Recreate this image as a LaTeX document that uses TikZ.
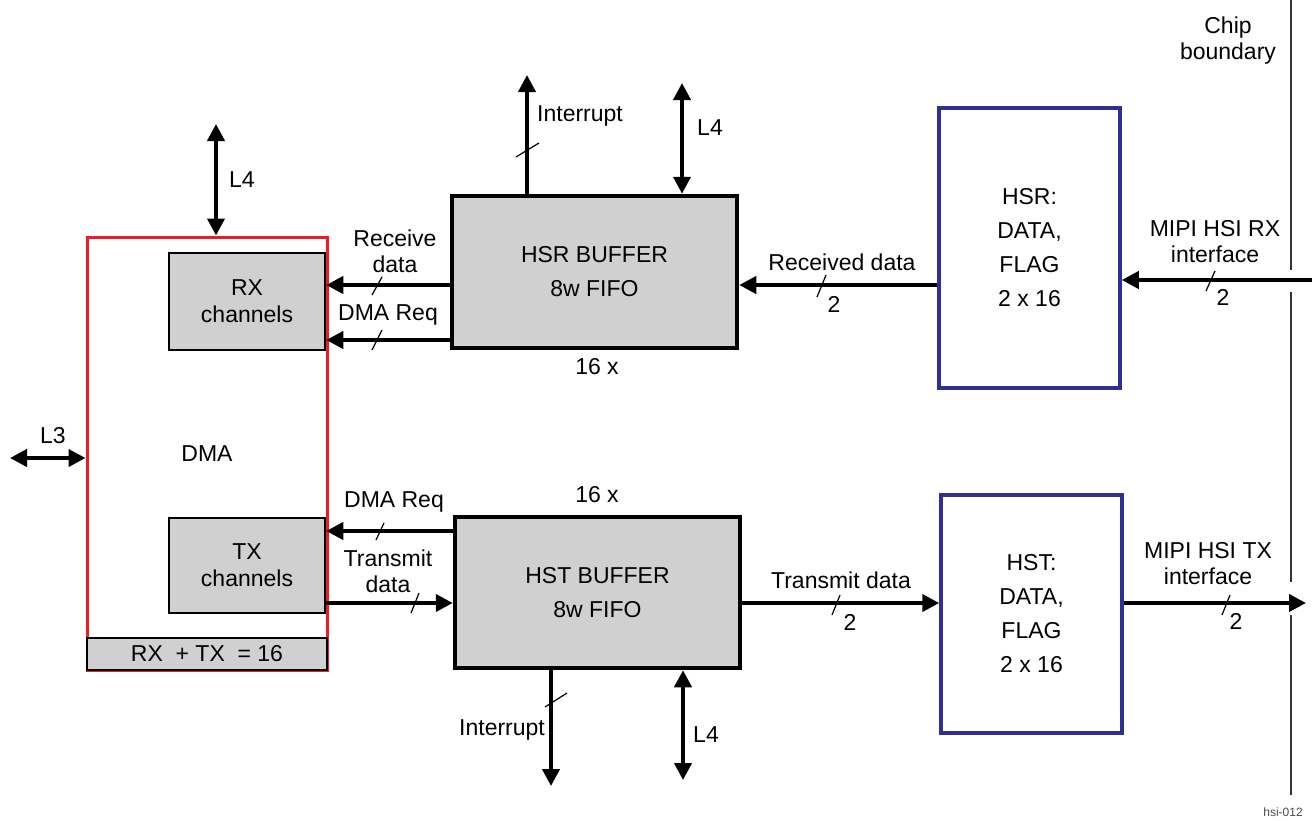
\documentclass[tikz,border=0pt]{standalone}
\usepackage{fontspec}
\setmainfont{Liberation Sans}
\usetikzlibrary{arrows.meta,calc}
\definecolor{boxgrey}{HTML}{D0D0D0}
\definecolor{dmared}{HTML}{ED1C24}
\definecolor{regblue}{HTML}{2E3192}
\begin{document}
\begin{tikzpicture}[x=1pt,y=-1pt,
  every node/.style={font=\fontsize{23}{26}\selectfont, inner sep=0pt},
  lbl/.style={align=center},
  chan/.style={draw=black, line width=2.5pt, fill=boxgrey, align=center, font=\fontsize{23}{27}\selectfont},
  buf/.style={draw=black, line width=4.5pt, fill=boxgrey, align=center, font=\fontsize{23}{34}\selectfont},
  reg/.style={draw=regblue, line width=3.5pt, fill=white, align=center, font=\fontsize{23}{34}\selectfont},
  sig/.style={line width=4pt, -{Triangle[length=17pt,width=17pt]}},
  bidir/.style={line width=4pt, {Triangle[length=17pt,width=17pt]}-{Triangle[length=17pt,width=17pt]}},
  tick/.style={line width=1.2pt},
  boundary/.style={line width=2pt, draw=black!80}
]
\useasboundingbox (0,0) rectangle (1312,820);

% DMA block
\node[draw=dmared, line width=3pt, minimum width=240pt, minimum height=433pt] (dma) at (207,453.5) {DMA};
\node[draw=black, line width=2pt, fill=boxgrey, minimum width=240pt, minimum height=32pt] (sum) at (207,654) {RX~ + TX~ = 16};
\node[chan, minimum width=156pt, minimum height=97pt] (rx) at (247,301.5) {RX\\channels};
\node[chan, minimum width=156pt, minimum height=95pt] (tx) at (247,565.5) {TX\\channels};

% buffers
\node[buf, minimum width=285pt, minimum height=152pt] (hsrbuf) at (594.5,272) {HSR BUFFER\\8w FIFO};
\node[buf, minimum width=285pt, minimum height=151pt] (hstbuf) at (597.5,592.5) {HST BUFFER\\8w FIFO};

% registers
\node[reg, minimum width=181pt, minimum height=280pt] (hsrreg) at (1029.5,248) {HSR:\\DATA,\\FLAG\\2 x 16};
\node[reg, minimum width=181pt, minimum height=238pt] (hstreg) at (1031.5,614) {HST:\\DATA,\\FLAG\\2 x 16};

% free ends
\coordinate (l3) at (10,458);
\coordinate (l4d) at (216,124);
\coordinate (irq1) at (527,75);
\coordinate (l4a) at (682,83);
\coordinate (rxin) at (1312,280);
\coordinate (txout) at (1306,603);
\coordinate (irq2) at (551,786);
\coordinate (l4b) at (683,780);

% connectors
\draw[bidir] (l3) -- (dma.west |- l3);
\draw[bidir] (l4d) -- (dma.north -| l4d);
\draw[sig] (hsrbuf.north -| irq1) -- (irq1);
\draw[bidir] (l4a) -- (hsrbuf.north -| l4a);
\draw[sig] (hsrbuf.west |- 0,285) -- (rx.east |- 0,285);
\draw[sig] (hsrbuf.west |- 0,340) -- (rx.east |- 0,340);
\draw[sig] (hsrreg.west |- 0,285) -- (hsrbuf.east |- 0,285);
\draw[sig] (rxin) -- (hsrreg.east |- rxin);

\draw[sig] (hstbuf.west |- 0,531) -- (tx.east |- 0,531);
\draw[sig] (tx.east |- 0,603) -- (hstbuf.west |- 0,603);
\draw[sig] (hstbuf.east |- 0,603) -- (hstreg.west |- 0,603);
\draw[sig] (hstreg.east |- 0,603) -- (txout);
\draw[sig] (hstbuf.south -| irq2) -- (irq2);
\draw[bidir] (hstbuf.south -| l4b) -- (l4b);

% bus ticks
\draw[tick] (372,295) -- (382,277);
\draw[tick] (372,350) -- (382,330);
\draw[tick] (516,157) -- (539,143);
\draw[tick] (817,297) -- (826,275);
\draw[tick] (1206,291) -- (1215,271);
\draw[tick] (376,540) -- (384,523);
\draw[tick] (411,613) -- (419,593);
\draw[tick] (545,707) -- (567,693);
\draw[tick] (832,615) -- (840,595);
\draw[tick] (1222,615) -- (1230,595);

% chip boundary
\draw[boundary] (1291,0) -- (1291,270);
\draw[boundary] (1291,292) -- (1291,582);
\draw[boundary] (1291,615) -- (1291,795);

% labels
\node (tL3) at (53,436) {L3};
\node (tL4d) at (242,180) {L4};
\node[lbl] (trecv) at (395,251.5) {Receive\\data};
\node (tdmareq1) at (388,315) {DMA Req};
\node (t16a) at (597,367) {16 x};
\node (tirq1) at (580,116) {Interrupt};
\node (tL4a) at (710,128) {L4};
\node (trecd) at (842,262) {Received data};
\node (t2a) at (834,304) {2};
\node[lbl] (tmipirx) at (1215,241.5) {MIPI HSI RX\\interface};
\node (t2b) at (1223,297) {2};
\node[lbl] (tchip) at (1228,41) {Chip\\boundary};

\node (t16b) at (597,495) {16 x};
\node (tdmareq2) at (394,502) {DMA Req};
\node[lbl] (ttx) at (388,571.5) {Transmit\\data};
\node (tirq2) at (502,730) {Interrupt};
\node (tL4b) at (706,735) {L4};
\node (ttxd) at (841,580) {Transmit data};
\node (t2c) at (850,622) {2};
\node[lbl] (tmipitx) at (1208,563.5) {MIPI HSI TX\\interface};
\node (t2d) at (1236,621) {2};
\node[font=\fontsize{12}{14}\selectfont, text=black!70] (tid) at (1283,812) {hsi-012};
\end{tikzpicture}
\end{document}
